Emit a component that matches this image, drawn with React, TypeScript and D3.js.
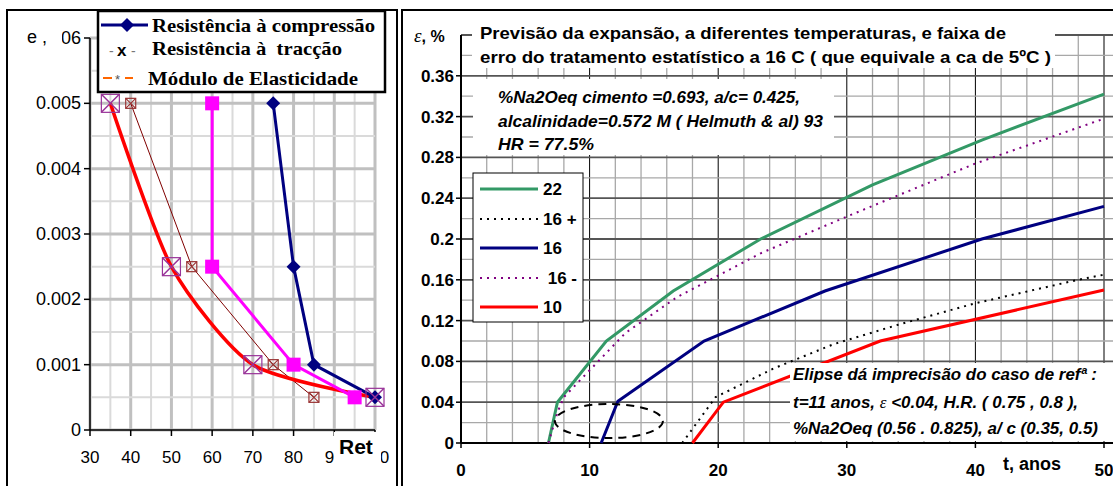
import * as d3 from 'd3';
import React, { useEffect, useRef } from 'react';

type Pt = [number, number];

// painel esquerdo: retenção (%) vs extensão
const retTicks = [30, 40, 50, 60, 70, 80, 90, 100];
const strainTicks = [0, 0.001, 0.002, 0.003, 0.004, 0.005, 0.006];
const strainLabels = ['0', '0.001', '0.002', '0.003', '0.004', '0.005', '0.006'];
const compressao: Pt[] = [[75, 0.005], [80, 0.0025], [85, 0.001], [100, 0.0005]];
const traccao: Pt[] = [[60, 0.005], [60, 0.0025], [80, 0.001], [95, 0.0005]];
const modulo: Pt[] = [[35, 0.005], [50, 0.0025], [70, 0.001], [100, 0.0005]];
const moduloRef: Pt[] = [[40, 0.005], [55, 0.0025], [75, 0.001], [85, 0.0005]];
const leftLegend = ['Resistência à compressão', 'Resistência à  tracção', 'Módulo de Elasticidade'];

// painel direito: expansão vs tempo
const anosTicks = [0, 10, 20, 30, 40, 50];
const expTicks = [0, 0.04, 0.08, 0.12, 0.16, 0.2, 0.24, 0.28, 0.32, 0.36];
const t22: Pt[] = [[6.8, 0], [7.5, 0.04], [11.3, 0.1], [16.5, 0.149], [23.3, 0.2], [32, 0.253], [40.5, 0.297], [50, 0.342]];
const t16mais: Pt[] = [[17.2, 0], [19.8, 0.045], [24.3, 0.073], [29, 0.097], [34, 0.116], [40, 0.137], [48, 0.16], [50, 0.165]];
const t16: Pt[] = [[10.9, 0], [12.2, 0.041], [18.9, 0.1], [28.3, 0.149], [40.5, 0.2], [50, 0.232]];
const t16menos: Pt[] = [[6.8, 0], [7.5, 0.03], [8, 0.045], [12.8, 0.108], [16.8, 0.143], [23.3, 0.186], [30, 0.222], [40, 0.274], [50, 0.318]];
const t10: Pt[] = [[18, 0], [20.4, 0.04], [32.6, 0.1], [50, 0.15]];
const rightLegend = ['22', '16 +', '16', ' 16 -', '10'];
// elipse do caso de referência: centro (t, e) e semi-eixos
const elipse = { t: 11.5, e: 0.0215, dt: 4.2, de: 0.0167 };

const titulo = [
  'Previsão da expansão, a diferentes temperaturas, e faixa de',
  'erro do tratamento estatístico a 16 C ( que equivale a ca de 5ºC )',
];
const notaCimento = [
  '%Na2Oeq cimento =0.693, a/c= 0.425,',
  'alcalinidade=0.572 M ( Helmuth & al) 93',
  'HR = 77.5%',
];

const SANS = "'Liberation Sans', Arial, sans-serif";
const NARROW = "'Liberation Sans Narrow', 'Arial Narrow', 'Liberation Sans', sans-serif";
const SERIF = "'Liberation Serif', 'Times New Roman', serif";

export default function App() {
  const ref = useRef<SVGSVGElement>(null);

  useEffect(() => {
    const svg = d3.select(ref.current);
    svg.selectAll('*').remove();

    // ---------- painel esquerdo ----------
    const xL = d3.scaleLinear().domain([30, 100]).range([90, 375]);
    const yL = d3.scaleLinear().domain([0, 0.006]).range([430, 38]);
    const left = svg.append('g');

    left.append('rect').attr('x', 7).attr('y', 10).attr('width', 390).attr('height', 490)
      .attr('fill', 'white').attr('stroke', 'black').attr('stroke-width', 2);

    const gx = d3.range(0, 15).map((i) => 30 + i * 5);
    left.append('g').selectAll('line').data(gx).join('line')
      .attr('x1', (d) => xL(d)).attr('x2', (d) => xL(d)).attr('y1', yL(0.006)).attr('y2', yL(0))
      .attr('stroke', (d) => (d % 10 === 0 ? '#c0c0c0' : '#dadada'))
      .attr('stroke-width', (d) => (d % 10 === 0 ? 3 : 2));
    const gy = d3.range(0, 13).map((i) => i * 0.0005);
    left.append('g').selectAll('line').data(gy).join('line')
      .attr('x1', xL(30)).attr('x2', xL(100)).attr('y1', (d) => yL(d)).attr('y2', (d) => yL(d))
      .attr('stroke', (_, i) => (i % 2 === 0 ? '#c0c0c0' : '#dadada'))
      .attr('stroke-width', (_, i) => (i % 2 === 0 ? 3 : 2));

    // eixos
    left.append('line').attr('x1', xL(30)).attr('x2', xL(30)).attr('y1', yL(0.006)).attr('y2', yL(0))
      .attr('stroke', 'black').attr('stroke-width', 1.5);
    left.append('line').attr('x1', xL(30)).attr('x2', xL(100)).attr('y1', yL(0)).attr('y2', yL(0))
      .attr('stroke', 'black').attr('stroke-width', 1.5);
    left.append('g').selectAll('line').data(strainTicks).join('line')
      .attr('x1', xL(30) - 6).attr('x2', xL(30)).attr('y1', (d) => yL(d)).attr('y2', (d) => yL(d))
      .attr('stroke', 'black').attr('stroke-width', 1.5);
    left.append('g').selectAll('line').data(retTicks).join('line')
      .attr('x1', (d) => xL(d)).attr('x2', (d) => xL(d)).attr('y1', yL(0)).attr('y2', yL(0) + 6)
      .attr('stroke', 'black').attr('stroke-width', 1.5);
    left.append('g').attr('font-family', SANS).attr('font-size', 18).attr('text-anchor', 'end')
      .selectAll('text').data(strainTicks).join('text')
      .attr('x', 81).attr('y', (d) => yL(d) + 6).text((_, i) => strainLabels[i]);
    left.append('g').attr('font-family', SANS).attr('font-size', 17).attr('text-anchor', 'middle')
      .selectAll('text').data(retTicks).join('text')
      .attr('x', (d) => xL(d)).attr('y', 463).text((d) => d);

    // séries
    const lineL = d3.line<Pt>().x((d) => xL(d[0])).y((d) => yL(d[1]));
    left.append('path').attr('d', lineL(moduloRef)).attr('fill', 'none').attr('stroke', '#800000').attr('stroke-width', 1);
    const smooth = d3.line<Pt>().x((d) => xL(d[0])).y((d) => yL(d[1])).curve(d3.curveCardinal.tension(0.3));
    left.append('path').attr('d', smooth(modulo)).attr('fill', 'none')
      .attr('stroke', '#ff0000').attr('stroke-width', 3.5);
    left.append('path').attr('d', lineL(traccao)).attr('fill', 'none').attr('stroke', '#ff00ff').attr('stroke-width', 3);
    left.append('path').attr('d', lineL(compressao)).attr('fill', 'none').attr('stroke', '#000080').attr('stroke-width', 3);

    const boxX = (g: any, pts: Pt[], s: number, color: string, sw: number) => {
      const m = g.append('g').selectAll('g').data(pts).join('g')
        .attr('transform', (d: Pt) => `translate(${xL(d[0])},${yL(d[1])})`);
      m.append('rect').attr('x', -s / 2).attr('y', -s / 2).attr('width', s).attr('height', s)
        .attr('fill', 'none').attr('stroke', color).attr('stroke-width', 1.2);
      m.append('path').attr('d', `M${-s / 2},${-s / 2}L${s / 2},${s / 2}M${s / 2},${-s / 2}L${-s / 2},${s / 2}`)
        .attr('stroke', color).attr('stroke-width', sw);
    };
    boxX(left, moduloRef, 10, '#993333', 1.2);
    left.append('g').selectAll('rect').data(traccao).join('rect')
      .attr('x', (d) => xL(d[0]) - 7).attr('y', (d) => yL(d[1]) - 7).attr('width', 14).attr('height', 14)
      .attr('fill', '#ff00ff');
    left.append('g').selectAll('path').data(compressao).join('path')
      .attr('d', (d) => `M${xL(d[0])},${yL(d[1]) - 7}l7,7l-7,7l-7,-7z`).attr('fill', '#000080');
    boxX(left, modulo, 18, '#993399', 1.5);

    // rótulos dos eixos
    left.append('rect').attr('x', 22).attr('y', 26).attr('width', 40).attr('height', 22).attr('fill', 'white');
    left.append('text').attr('x', 27).attr('y', 43).attr('font-family', SANS).attr('font-size', 18).text('e ,');
    left.append('rect').attr('x', 334).attr('y', 432).attr('width', 47).attr('height', 38).attr('fill', 'white');
    left.append('text').attr('x', 339).attr('y', 454).attr('font-family', SANS).attr('font-weight', 'bold')
      .attr('font-size', 21).text('Ret');

    // legenda
    const lg = left.append('g');
    lg.append('rect').attr('x', 98).attr('y', 11).attr('width', 287).attr('height', 81)
      .attr('fill', 'white').attr('stroke', 'black').attr('stroke-width', 2.5);
    lg.append('line').attr('x1', 101).attr('x2', 148).attr('y1', 25).attr('y2', 25).attr('stroke', '#000080').attr('stroke-width', 3);
    lg.append('path').attr('d', 'M127,18l7,7l-7,7l-7,-7z').attr('fill', '#000080');
    lg.append('text').attr('x', 109).attr('y', 56).attr('font-family', SANS).attr('font-size', 14).attr('fill', '#777').text('-');
    lg.append('text').attr('x', 117).attr('y', 56).attr('font-family', SANS).attr('font-size', 17).attr('font-weight', 'bold').text('x');
    lg.append('text').attr('x', 131).attr('y', 56).attr('font-family', SANS).attr('font-size', 14).attr('fill', '#777').text('-');
    lg.append('line').attr('x1', 103).attr('x2', 112).attr('y1', 78).attr('y2', 78).attr('stroke', '#ff6600').attr('stroke-width', 2);
    lg.append('line').attr('x1', 125).attr('x2', 133).attr('y1', 78).attr('y2', 78).attr('stroke', '#ff6600').attr('stroke-width', 2);
    lg.append('text').attr('x', 115).attr('y', 84).attr('font-family', SANS).attr('font-size', 13).attr('fill', '#555').text('*');
    const legX = [152, 152, 148];
    const legY = [32, 55, 85];
    const legW = [223, 190, 210];
    lg.append('g').attr('font-family', SERIF).attr('font-weight', 'bold').attr('font-size', 19)
      .selectAll('text').data(leftLegend).join('text')
      .attr('x', (_, i) => legX[i]).attr('y', (_, i) => legY[i])
      .attr('textLength', (_, i) => legW[i]).attr('lengthAdjust', 'spacingAndGlyphs')
      .style('white-space', 'pre').text((d) => d);

    // ---------- painel direito ----------
    const xR = d3.scaleLinear().domain([0, 50]).range([461, 1104]);
    const yR = d3.scaleLinear().domain([0, 0.4]).range([443, 35]);
    const right = svg.append('g');

    right.append('rect').attr('x', 402).attr('y', 10).attr('width', 730).attr('height', 490)
      .attr('fill', 'white').attr('stroke', 'black').attr('stroke-width', 2);

    const vx = d3.range(0, 26).map((i) => i * 2);
    right.append('g').selectAll('line').data(vx).join('line')
      .attr('x1', (d) => xR(d)).attr('x2', (d) => xR(d)).attr('y1', yR(0.4)).attr('y2', yR(0))
      .attr('stroke', (d) => (d % 10 === 0 ? '#000' : '#a8a8a8'))
      .attr('stroke-width', (d) => (d % 10 === 0 ? 1 : 1.3));
    const hy = d3.range(0, 21).map((i) => i * 0.02);
    right.append('g').selectAll('line').data(hy).join('line')
      .attr('x1', xR(0)).attr('x2', 1113).attr('y1', (d) => yR(d)).attr('y2', (d) => yR(d))
      .attr('stroke', (_, i) => (i % 2 === 0 ? '#555' : '#a8a8a8'))
      .attr('stroke-width', (_, i) => (i % 2 === 0 ? 1.8 : 1.3));

    right.append('line').attr('x1', xR(0)).attr('x2', xR(0)).attr('y1', yR(0.4)).attr('y2', yR(0))
      .attr('stroke', 'black').attr('stroke-width', 2);
    right.append('line').attr('x1', xR(0)).attr('x2', 1113).attr('y1', yR(0)).attr('y2', yR(0))
      .attr('stroke', 'black').attr('stroke-width', 2);
    right.append('g').selectAll('line').data(expTicks).join('line')
      .attr('x1', xR(0) - 5).attr('x2', xR(0)).attr('y1', (d) => yR(d)).attr('y2', (d) => yR(d))
      .attr('stroke', 'black').attr('stroke-width', 1.5);
    right.append('g').selectAll('line').data(anosTicks).join('line')
      .attr('x1', (d) => xR(d)).attr('x2', (d) => xR(d)).attr('y1', yR(0)).attr('y2', yR(0) + 5)
      .attr('stroke', 'black').attr('stroke-width', 1.5);
    right.append('g').attr('font-family', SANS).attr('font-weight', 'bold').attr('font-size', 17)
      .attr('text-anchor', 'end').selectAll('text').data(expTicks).join('text')
      .attr('x', 454).attr('y', (d) => yR(d) + 6).text((d) => d);
    right.append('g').attr('font-family', SANS).attr('font-weight', 'bold').attr('font-size', 17)
      .attr('text-anchor', 'middle').selectAll('text').data(anosTicks).join('text')
      .attr('x', (d) => xR(d)).attr('y', 476).text((d) => d);
    right.append('text').attr('x', 1003).attr('y', 470).attr('font-family', SANS).attr('font-weight', 'bold')
      .attr('font-size', 18).text('t, anos');

    // curvas
    const lineR = d3.line<Pt>().x((d) => xR(d[0])).y((d) => yR(d[1]));
    const series = [t22, t16mais, t16, t16menos, t10];
    const cores = ['#339966', '#000000', '#000080', '#800080', '#ff0000'];
    const larg = [3, 2, 3, 2, 3];
    const tracos = ['', '2,5', '', '2,5', ''];
    right.append('g').selectAll('path').data(series).join('path')
      .attr('d', (d) => lineR(d)).attr('fill', 'none')
      .attr('stroke', (_, i) => cores[i]).attr('stroke-width', (_, i) => larg[i])
      .attr('stroke-dasharray', (_, i) => tracos[i]);

    right.append('ellipse').attr('cx', xR(elipse.t)).attr('cy', yR(elipse.e))
      .attr('rx', xR(elipse.t + elipse.dt) - xR(elipse.t)).attr('ry', yR(0) - yR(elipse.de))
      .attr('fill', 'none').attr('stroke', 'black').attr('stroke-width', 2).attr('stroke-dasharray', '8,6');

    // título
    right.append('rect').attr('x', 472).attr('y', 18).attr('width', 583).attr('height', 50).attr('fill', 'white');
    const titW = [526, 571];
    right.append('g').attr('font-family', NARROW).attr('font-weight', 'bold').attr('font-size', 17)
      .selectAll('text').data(titulo).join('text')
      .attr('x', 480).attr('y', (_, i) => 39 + i * 24)
      .attr('textLength', (_, i) => titW[i]).attr('lengthAdjust', 'spacingAndGlyphs').text((d) => d);
    const eps = right.append('text').attr('x', 414).attr('y', 42).attr('font-family', SANS)
      .attr('font-weight', 'bold').attr('font-size', 16);
    eps.append('tspan').attr('font-family', SERIF).attr('font-style', 'italic').attr('font-weight', 'normal')
      .attr('font-size', 19).text('ε');
    eps.append('tspan').text(', %');

    // nota do cimento
    right.append('rect').attr('x', 473).attr('y', 79).attr('width', 361).attr('height', 76).attr('fill', 'white');
    const notaW = [302, 325, 96];
    right.append('g').attr('font-family', NARROW).attr('font-weight', 'bold').attr('font-style', 'italic')
      .attr('font-size', 17).selectAll('text').data(notaCimento).join('text')
      .attr('x', 498).attr('y', (_, i) => [103, 127, 150][i])
      .attr('textLength', (_, i) => notaW[i]).attr('lengthAdjust', 'spacingAndGlyphs').text((d) => d);

    // nota da elipse
    right.append('rect').attr('x', 790).attr('y', 363).attr('width', 323).attr('height', 78).attr('fill', 'white');
    const nota = right.append('g').attr('font-family', NARROW).attr('font-weight', 'bold')
      .attr('font-style', 'italic').attr('font-size', 17);
    nota.append('text').attr('x', 793).attr('y', 380).attr('textLength', 304).attr('lengthAdjust', 'spacingAndGlyphs')
      .text('Elipse dá imprecisão do caso de refª :');
    const l2 = nota.append('text').attr('x', 793).attr('y', 408).attr('textLength', 285).attr('lengthAdjust', 'spacingAndGlyphs');
    l2.append('tspan').text('t=11 anos, ');
    l2.append('tspan').attr('font-family', SERIF).attr('font-weight', 'normal').text('ε');
    l2.append('tspan').text(' <0.04, H.R. ( 0.75 , 0.8 ),');
    nota.append('text').attr('x', 793).attr('y', 434).attr('textLength', 305).attr('lengthAdjust', 'spacingAndGlyphs')
      .text('%Na2Oeq (0.56 . 0.825), a/ c (0.35, 0.5)');

    // legenda
    const rl = right.append('g');
    rl.append('rect').attr('x', 473).attr('y', 173).attr('width', 110).attr('height', 149)
      .attr('fill', 'white').attr('stroke', 'black').attr('stroke-width', 1);
    const ly = [189, 219, 248, 278, 307];
    rl.append('g').selectAll('line').data(rightLegend).join('line')
      .attr('x1', 480).attr('x2', 538).attr('y1', (_, i) => ly[i]).attr('y2', (_, i) => ly[i])
      .attr('stroke', (_, i) => cores[i]).attr('stroke-width', (_, i) => larg[i])
      .attr('stroke-dasharray', (_, i) => tracos[i]);
    rl.append('g').attr('font-family', SANS).attr('font-weight', 'bold').attr('font-size', 17)
      .selectAll('text').data(rightLegend).join('text')
      .attr('x', 543).attr('y', (_, i) => ly[i] + 6).style('white-space', 'pre').text((d) => d);
  }, []);

  return (
    <svg ref={ref} width={1113} height={486}
      style={{ position: 'absolute', left: 0, top: 0, background: 'white' }} />
  );
}
